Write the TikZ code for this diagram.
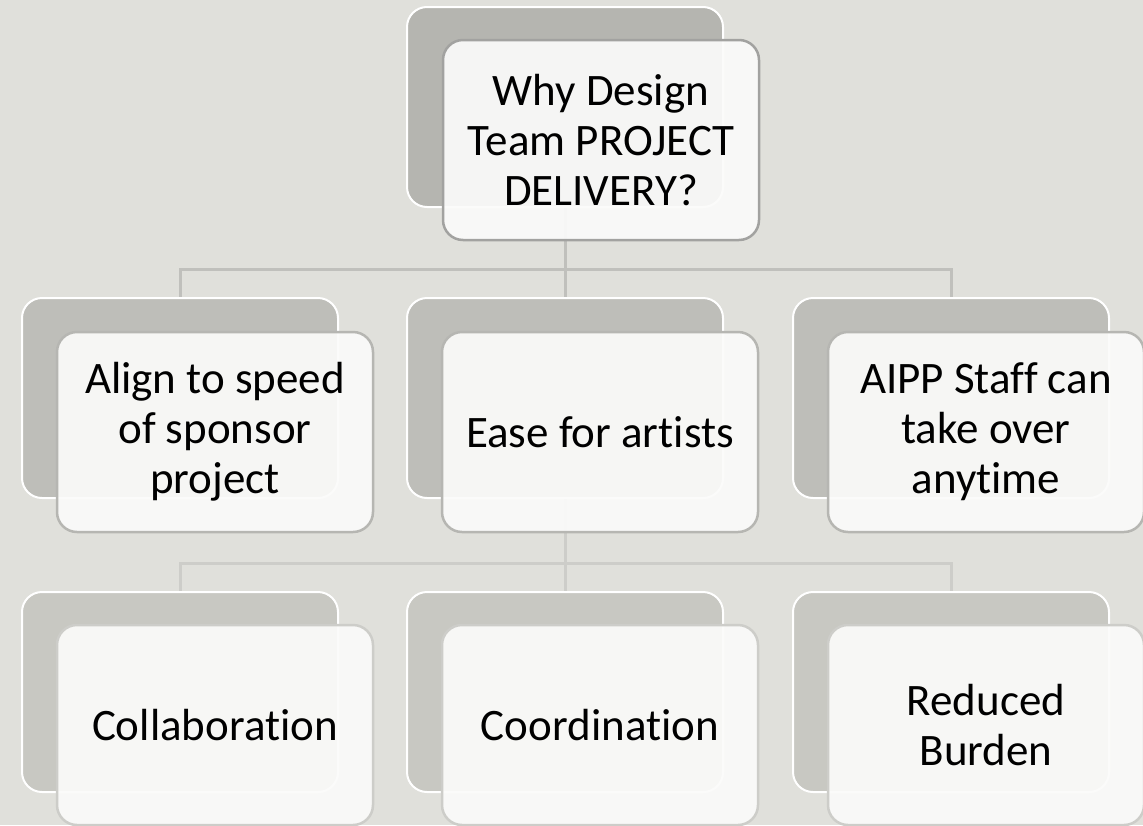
\documentclass[tikz,border=0pt]{standalone}
\usepackage{fontspec}
\setmainfont[Ligatures=NoCommon]{Carlito}
\usetikzlibrary{positioning}

\definecolor{Backdrop}{HTML}{E0E0DB}
\definecolor{ShadeA}{HTML}{B5B5B0}
\definecolor{ShadeB}{HTML}{BEBEB9}
\definecolor{ShadeC}{HTML}{C8C8C2}
\definecolor{RimA}{HTML}{A2A2A0}
\definecolor{RimB}{HTML}{B6B6B2}
\definecolor{RimC}{HTML}{CDCDC9}
\definecolor{CardFill}{HTML}{FBFBFA}

\begin{document}
\begin{tikzpicture}[x=1pt,y=-1pt]
\tikzstyle{Shadow} = [rounded corners=20, minimum width=316, minimum height=200, inner sep=0, draw=white, line width=2]
\tikzstyle{Card} = [rounded corners=20, minimum width=316, minimum height=200, inner sep=0, line width=2.5, fill=CardFill, fill opacity=0.92, text opacity=1, align=center, font=\fontsize{45}{50}\selectfont]
\tikzstyle{Branch} = [line width=3]

\fill [Backdrop] (0,0) rectangle (1143,825);
\useasboundingbox (0,0) rectangle (1143,825);

\node [Shadow, fill=ShadeA] (b1) at (565,107) {};
\node [Shadow, fill=ShadeB] (b2) at (180,398) {};
\node [Shadow, fill=ShadeB] (b3) at (565,398) {};
\node [Shadow, fill=ShadeB] (b4) at (951,398) {};
\node [Shadow, fill=ShadeC] (b5) at (180,692) {};
\node [Shadow, fill=ShadeC] (b6) at (565,692) {};
\node [Shadow, fill=ShadeC] (b7) at (951,692) {};

\draw [Branch, color=ShadeA!85] (b1.south) -- ++(0,61) -| (b2.north);
\draw [Branch, color=ShadeA!85] (b1.south) -- (b3.north);
\draw [Branch, color=ShadeA!85] (b1.south) -- ++(0,61) -| (b4.north);
\draw [Branch, color=RimC] (b3.south) -- ++(0,64) -| (b5.north);
\draw [Branch, color=RimC] (b3.south) -- (b6.north);
\draw [Branch, color=RimC] (b3.south) -- ++(0,64) -| (b7.north);

\node [Card, draw=RimA] (f1) at (601,140) {Why Design\\Team PROJECT\\DELIVERY?};
\node [Card, draw=RimB] (f2) at (215,432) {Align to speed\\of sponsor\\project};
\node [Card, draw=RimB] (f3) at (600,432) {Ease for artists};
\node [Card, draw=RimB] (f4) at (986,432) {AIPP Staff can\\take over\\anytime};
\node [Card, draw=RimC] (f5) at (215,725) {Collaboration};
\node [Card, draw=RimC] (f6) at (600,725) {Coordination};
\node [Card, draw=RimC] (f7) at (986,725) {Reduced\\Burden};
\end{tikzpicture}
\end{document}
